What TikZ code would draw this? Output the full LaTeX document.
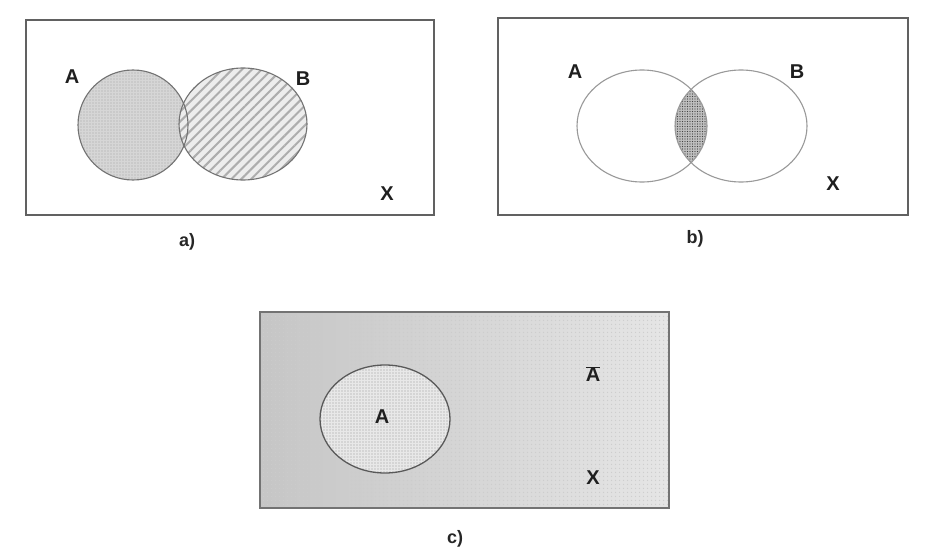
\documentclass[tikz,border=0pt]{standalone}
\usepackage{fontspec}
\setmainfont{Liberation Sans}
\usetikzlibrary{patterns,patterns.meta}
\begin{document}
\begin{tikzpicture}[x=1pt,y=-1pt,
  frame/.style={draw=black!62,line width=1.6pt},
  ring/.style={draw=black!55,line width=1.1pt},
  lab/.style={font=\bfseries\fontsize{20}{20}\selectfont,inner sep=0pt,text=black!88},
  caplabel/.style={font=\bfseries\fontsize{18}{18}\selectfont,inner sep=0pt,text=black!85}]
\useasboundingbox[fill=white] (0,0) rectangle (925,559);
% ---------- panel a ----------
\draw[frame] (26,20) rectangle (434,215);
\fill[gray!32] (133,125) ellipse [x radius=55,y radius=55];
\fill[pattern={Dots[distance=3pt,radius=0.6pt]},pattern color=black!35] (133,125) ellipse [x radius=55,y radius=55];
\fill[gray!14] (243,124) ellipse [x radius=64,y radius=56];
\fill[pattern={Lines[angle=45,distance=7pt,line width=2pt]},pattern color=black!32] (243,124) ellipse [x radius=64,y radius=56];
\draw[ring] (133,125) ellipse [x radius=55,y radius=55];
\draw[ring] (243,124) ellipse [x radius=64,y radius=56];
\node[lab] (aA) at (72,77) {A};
\node[lab] (aB) at (303,79) {B};
\node[lab] (aX) at (387,194) {X};
\node[caplabel] (acap) at (187,242) {a)};
% ---------- panel b ----------
\draw[frame] (498,18) rectangle (908,215);
\begin{scope}
\clip (642,126) ellipse [x radius=65,y radius=56];
\fill[gray!50] (741,126) ellipse [x radius=66,y radius=56];
\fill[pattern={Dots[distance=2.5pt,radius=0.7pt]},pattern color=black!75] (741,126) ellipse [x radius=66,y radius=56];
\end{scope}
\draw[ring,draw=black!40] (642,126) ellipse [x radius=65,y radius=56];
\draw[ring,draw=black!40] (741,126) ellipse [x radius=66,y radius=56];
\node[lab] (bA) at (575,72) {A};
\node[lab] (bB) at (797,72) {B};
\node[lab] (bX) at (833,184) {X};
\node[caplabel] (bcap) at (695,239) {b)};
% ---------- panel c ----------
\shade[left color=gray!45,right color=gray!20] (260,312) rectangle (669,508);
\fill[pattern={Dots[distance=4pt,radius=0.8pt]},pattern color=black!20] (260,312) rectangle (669,508);
\draw[frame,draw=black!55] (260,312) rectangle (669,508);
\fill[gray!18] (385,419) ellipse [x radius=65,y radius=54];
\fill[pattern={Dots[distance=3pt,radius=0.7pt]},pattern color=black!40] (385,419) ellipse [x radius=65,y radius=54];
\draw[ring,draw=black!65,line width=1.3pt] (385,419) ellipse [x radius=65,y radius=54];
\node[lab] (cA) at (382,417) {A};
\node[lab] (cAbar) at (593,374) {$\overline{\mbox{A}}$};
\node[lab] (cX) at (593,478) {X};
\node[caplabel] (ccap) at (455,539) {c)};
\end{tikzpicture}
\end{document}
